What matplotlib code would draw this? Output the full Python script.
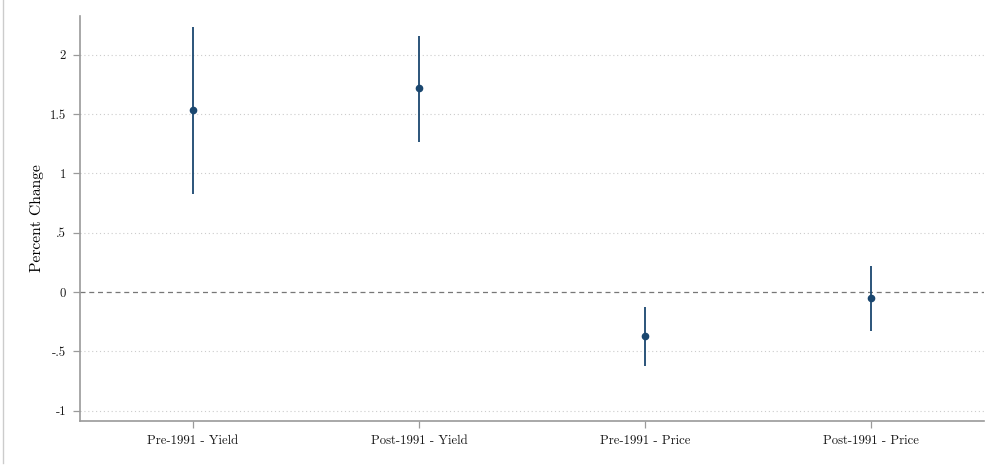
import matplotlib

matplotlib.use("Agg")
import matplotlib.pyplot as plt
from matplotlib.lines import Line2D

categories = ["Pre-1991 - Yield", "Post-1991 - Yield", "Pre-1991 - Price", "Post-1991 - Price"]
estimates = [1.53, 1.72, -0.374, -0.053]
ci_low = [0.823, 1.264, -0.624, -0.329]
ci_high = [2.23, 2.157, -0.129, 0.219]
yticks = [-1, -0.5, 0, 0.5, 1, 1.5, 2]
ytick_labels = ["-1", "-.5", "0", ".5", "1", "1.5", "2"]

navy = "#1a476f"
grey = "#9a9a9a"

plt.rcParams["font.family"] = ["cmr10", "DejaVu Serif"]

fig = plt.figure(figsize=(10.01, 4.67), dpi=100)
ax = fig.add_axes([80 / 1001, 46 / 467, 904 / 1001, 405 / 467])

x = list(range(1, len(categories) + 1))
err_lo = [e - l for e, l in zip(estimates, ci_low)]
err_hi = [h - e for e, h in zip(estimates, ci_high)]

for t in yticks:
    if t == 0:
        ax.axhline(t, color="#777777", lw=0.9, ls=(0, (4, 3)), zorder=1)
    else:
        ax.axhline(t, color="#cccccc", lw=0.8, ls=(0, (1, 2.5)), zorder=1)

ax.errorbar(x, estimates, yerr=[err_lo, err_hi], fmt="o", color=navy,
            ecolor=navy, elinewidth=1.3, markersize=4.5, capsize=0, zorder=3)

ax.set_xlim(0.5, 4.5)
ax.set_ylim(-1.087, 2.326)
ax.set_xticks(x)
ax.set_xticklabels(categories, fontsize=9.2)
ax.set_yticks(yticks)
ax.set_yticklabels(ytick_labels, fontsize=9.2)
ax.set_ylabel("Percent Change", fontsize=11.2, labelpad=4)

for side in ["top", "right"]:
    ax.spines[side].set_visible(False)
for side in ["left", "bottom"]:
    ax.spines[side].set_color(grey)
    ax.spines[side].set_linewidth(1.2)
ax.tick_params(colors=grey, labelcolor="#1a1a1a", length=5, width=0.9, pad=5)

# thin border line on the left edge of the image
fig.add_artist(Line2D([2.5 / 1001, 2.5 / 1001], [4 / 467, 1], color="#cccccc", lw=1))

fig.savefig("out.png", dpi=100, facecolor="white")
